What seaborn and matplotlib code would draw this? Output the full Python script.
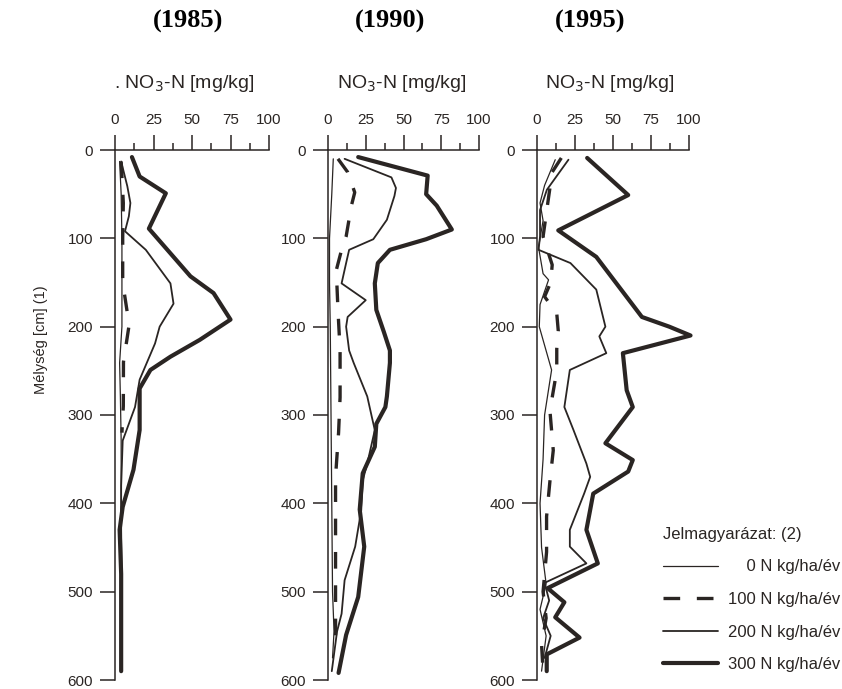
"""
NO3-N profiles in the soil (1985, 1990, 1995) for four N doses.
"""

import pandas as pd
import matplotlib.pyplot as plt
import seaborn as sns
from matplotlib.lines import Line2D
from matplotlib.ticker import MultipleLocator

sns.set_theme(context='notebook', style='ticks')
plt.rcParams['font.family'] = ['Liberation Sans', 'DejaVu Sans']
ink = '#2a2523'
plt.rcParams['text.color'] = ink
plt.rcParams['xtick.color'] = ink
plt.rcParams['ytick.color'] = ink
plt.rcParams['axes.labelcolor'] = ink

# Data
years = ['1985', '1990', '1995']
doses = ['0 N kg/ha/év', '100 N kg/ha/év', '200 N kg/ha/év', '300 N kg/ha/év']

# 1985
depth_1985_0 = [13, 50, 100, 150, 200, 241, 280, 329, 400, 500, 590]
no3_1985_0 = [3, 4, 4.5, 4.5, 4.5, 3, 3.5, 4, 4, 4, 4]
depth_1985_100 = [13, 60, 100, 150, 190, 200, 240, 290, 320]
no3_1985_100 = [4, 5.4, 5, 5, 8.5, 9, 5.5, 5.4, 4.5]
depth_1985_200 = [13, 41, 60, 75, 92, 113, 151, 174, 200, 219, 260, 291, 329, 380, 430, 500, 590]
no3_1985_200 = [4, 8, 10, 9, 6.5, 20, 36, 38, 29, 26, 16, 13, 5, 4, 4, 4.5, 4.5]
depth_1985_300 = [8, 30, 49, 89, 143, 162, 192, 215, 234, 249, 270, 317, 362, 404, 430, 480, 545, 590]
no3_1985_300 = [11, 16, 33, 22, 49, 64, 75, 55, 36, 23, 16, 16, 12, 5, 3, 4, 4, 4]

# 1990
depth_1990_0 = [10, 50, 100, 150, 200, 300, 400, 500, 545, 575]
no3_1990_0 = [3.5, 2.5, 1, 1, 1.5, 2, 2.5, 3, 4, 3]
depth_1990_100 = [10, 25, 48, 63, 98, 113, 136, 181, 227, 280, 320, 370, 420, 500, 560]
no3_1990_100 = [6.6, 13, 17.7, 15.5, 12, 9, 5.5, 6.6, 8, 8, 7, 5, 5, 5, 5]
depth_1990_200 = [10, 31, 43, 52, 79, 101, 113, 128, 151, 170, 189, 200, 227, 241, 279,
                  302, 317, 355, 374, 408, 449, 487, 525, 545, 590]
no3_1990_200 = [11, 42, 45, 44, 39, 30, 14, 12, 9, 25, 13, 12, 14, 17, 26,
                29, 31, 26, 23, 22, 18, 11, 9, 6, 2.5]
depth_1990_300 = [8, 29, 50, 63, 90, 101, 113, 128, 151, 181, 206, 227, 241, 279, 291,
                  310, 336, 366, 407, 449, 506, 549, 592]
no3_1990_300 = [20, 66, 65, 72, 82, 65, 41, 33, 31, 32, 37, 41, 41, 39, 38,
                32, 31, 23, 21, 24, 20, 12, 7]

# 1995
depth_1995_0 = [11, 40, 60, 80, 100, 110, 140, 147, 175, 200, 249, 300, 350, 400, 450,
                491, 520, 550, 590]
no3_1995_0 = [12, 5, 2, 4, 2, 1, 4, 7.6, 2, 1.5, 9.6, 5, 4, 2, 3, 6, 2, 6, 3]
depth_1995_100 = [9, 25, 55, 98, 130, 150, 166, 185, 205, 225, 250, 295, 340, 375, 415,
                  455, 500, 530, 560, 590]
no3_1995_100 = [16, 10, 7.5, 4, 10, 9, 5, 13, 14, 13, 13, 8.5, 10.7, 8.5, 6.3,
                6.3, 4, 6, 3, 4]
depth_1995_200 = [11, 45, 68, 98, 113, 128, 158, 200, 211, 230, 249, 291, 317, 355, 370,
                  389, 430, 449, 468, 490, 510, 530, 550, 575]
no3_1995_200 = [20.7, 6.5, 2, 2, 1, 22, 39, 45, 41, 45.6, 21.6, 18, 24, 32.5, 35,
                31, 21.6, 21.6, 32.5, 5, 8, 4, 9, 5]
depth_1995_300 = [9, 51, 91, 121, 189, 200, 210, 230, 272, 291, 332, 351, 364, 389, 430,
                  468, 496, 512, 529, 552, 571, 590]
no3_1995_300 = [33, 60, 14, 39, 69, 87, 101, 56.5, 59, 63, 45, 63, 60, 37, 32.5,
                40, 7, 18, 12, 28, 6.4, 6.4]

profiles = {
    ('1985', doses[0]): (depth_1985_0, no3_1985_0),
    ('1985', doses[1]): (depth_1985_100, no3_1985_100),
    ('1985', doses[2]): (depth_1985_200, no3_1985_200),
    ('1985', doses[3]): (depth_1985_300, no3_1985_300),
    ('1990', doses[0]): (depth_1990_0, no3_1990_0),
    ('1990', doses[1]): (depth_1990_100, no3_1990_100),
    ('1990', doses[2]): (depth_1990_200, no3_1990_200),
    ('1990', doses[3]): (depth_1990_300, no3_1990_300),
    ('1995', doses[0]): (depth_1995_0, no3_1995_0),
    ('1995', doses[1]): (depth_1995_100, no3_1995_100),
    ('1995', doses[2]): (depth_1995_200, no3_1995_200),
    ('1995', doses[3]): (depth_1995_300, no3_1995_300),
}

rows = []
for (year, dose), (depths, values) in profiles.items():
    for d, v in zip(depths, values):
        rows.append({'year': year, 'dose': dose, 'depth': d, 'no3': v})
df = pd.DataFrame(rows)

# Line styles
widths = {doses[0]: 0.9, doses[1]: 2.4, doses[2]: 1.3, doses[3]: 3.0}
dash_styles = {doses[0]: '', doses[1]: (5, 5), doses[2]: '', doses[3]: ''}
palette = {d: ink for d in doses}

fig = plt.figure(figsize=(8.42, 6.89), dpi=100)
fig.patch.set_facecolor('white')

W, H = 842, 689
panel_x = [(115, 269), (328, 479), (537, 689)]
label_x = [184, 402, 610]
title_x = [188, 390, 590]
top_px, bottom_px = 150, 680
xlabels = ['. NO$_3$-N [mg/kg]', 'NO$_3$-N [mg/kg]', 'NO$_3$-N [mg/kg]']

for i, year in enumerate(years):
    x0, x1 = panel_x[i]
    ax = fig.add_axes([x0 / W, 1 - bottom_px / H, (x1 - x0) / W, (bottom_px - top_px) / H])
    ax.set_facecolor('white')
    sub = df[df['year'] == year]
    sns.lineplot(data=sub, x='no3', y='depth', hue='dose', style='dose', size='dose',
                 palette=palette, dashes=dash_styles, sizes=widths, orient='y',
                 sort=False, estimator=None, legend=False, ax=ax)
    for line in ax.lines:
        line.set_clip_on(False)
        line.set_solid_joinstyle('round')

    ax.set_xlim(0, 100)
    ax.set_ylim(600, 0)
    ax.xaxis.tick_top()
    ax.xaxis.set_label_position('top')
    ax.xaxis.set_major_locator(MultipleLocator(25))
    ax.xaxis.set_minor_locator(MultipleLocator(12.5))
    ax.yaxis.set_major_locator(MultipleLocator(100))
    for side in ['right', 'bottom']:
        ax.spines[side].set_visible(False)
    for side in ['top', 'left']:
        ax.spines[side].set_color(ink)
        ax.spines[side].set_linewidth(1.1)
    ax.tick_params(axis='x', which='major', direction='out', length=10.8, width=1.1,
                   pad=6, labelsize=11, top=True, bottom=False)
    ax.tick_params(axis='x', which='minor', direction='out', length=5, width=1.1,
                   top=True, bottom=False)
    ax.tick_params(axis='y', which='major', direction='out', length=10.8, width=1.1,
                   pad=5, labelsize=11)

    ax.set_xlabel(xlabels[i], fontsize=14)
    ax.xaxis.set_label_coords((label_x[i] - x0) / (x1 - x0), 1 + 62 / (bottom_px - top_px))
    if i == 0:
        ax.set_ylabel('Mélység [cm] (1)', fontsize=10.5)
        ax.yaxis.set_label_coords((48 - x0) / (x1 - x0), 1 - (340 - top_px) / (bottom_px - top_px))
    else:
        ax.set_ylabel('')

    fig.text(title_x[i] / W, 1 - 21 / H, f'({year})', ha='center', va='center',
             fontsize=19, fontweight='bold', color='black',
             family=['Liberation Serif', 'DejaVu Serif'])

# Legend
handles = [Line2D([], [], color=ink, lw=widths[d], dashes=dash_styles[d] if dash_styles[d] else (None, None))
           for d in doses]
labels = ['    ' + doses[0], doses[1], doses[2], doses[3]]
leg = fig.legend(handles, labels, title='Jelmagyarázat: (2)', loc='upper left',
                 bbox_to_anchor=(663 / W, 1 - 527 / H), frameon=False, fontsize=12,
                 title_fontsize=12, handlelength=3.3, handletextpad=0.6,
                 labelspacing=1.05, borderpad=0, borderaxespad=0, alignment='left')

fig.savefig('out.png', dpi=100, facecolor='white')
